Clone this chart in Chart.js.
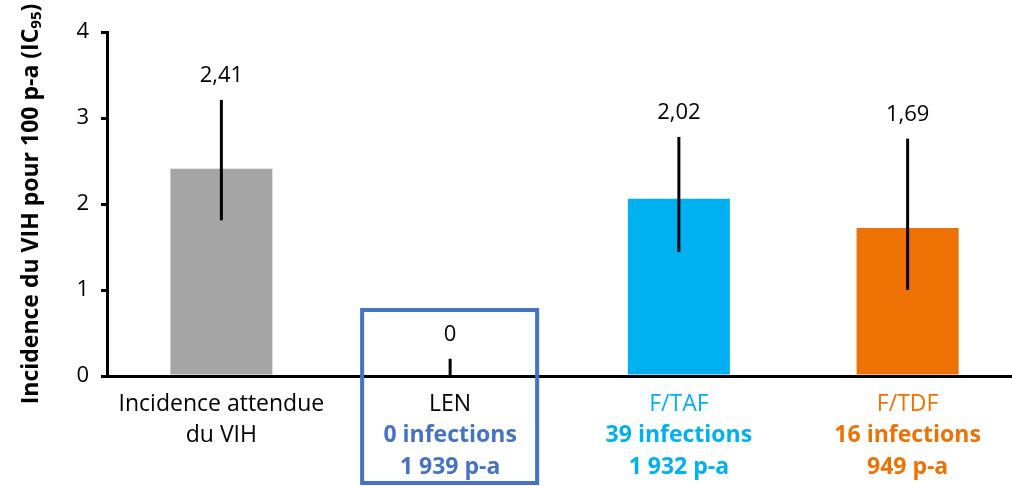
<!DOCTYPE html>
<html><head><meta charset="utf-8">
<script src="https://cdn.jsdelivr.net/npm/chart.js@4"></script>
<style>html,body{margin:0;padding:0;background:#fff;overflow:hidden}#wrap{width:1022px;height:486px;position:relative}</style>
</head><body><div id="wrap"><canvas id="c"></canvas></div>
<script>
const categories = ['Incidence attendue du VIH', 'LEN', 'F/TAF', 'F/TDF'];
const incidence = [2.41, 0, 2.06, 1.72];
const ciLow = [1.81, 0, 1.44, 1.0];
const ciHigh = [3.21, 0.2, 2.78, 2.76];
const valueLabels = ['2,41', '0', '2,02', '1,69'];
const labelLines = [
  ['Incidence attendue', 'du VIH'],
  ['LEN', '0 infections', '1 939 p-a'],
  ['F/TAF', '39 infections', '1 932 p-a'],
  ['F/TDF', '16 infections', '949 p-a']
];
const yTicks = [0, 1, 2, 3, 4];
const barColors = ['#A5A5A5', '#4472C4', '#00B0F0', '#ED7203'];
const firstLineColors = ['#000000', '#000000', '#00B0F0', '#ED7203'];
const otherLineColors = ['#000000', '#4472C4', '#00B0F0', '#ED7203'];
const FONT = '"Open Sans", Lato, sans-serif';

const overlay = {
  id: 'overlay',
  afterDatasetsDraw(chart) {
    const ctx = chart.ctx, x = chart.scales.x, y = chart.scales.y, ca = chart.chartArea;
    ctx.save();
    ctx.strokeStyle = '#000'; ctx.lineWidth = 3;
    for (let i = 0; i < categories.length; i++) {
      const px = x.getPixelForValue(i);
      ctx.beginPath();
      ctx.moveTo(px, y.getPixelForValue(ciLow[i]));
      ctx.lineTo(px, y.getPixelForValue(ciHigh[i]));
      ctx.stroke();
      ctx.fillStyle = '#000';
      ctx.font = '22px ' + FONT;
      ctx.textAlign = 'center'; ctx.textBaseline = 'middle';
      ctx.fillText(valueLabels[i], px, y.getPixelForValue(ciHigh[i]) - 24);
      labelLines[i].forEach((t, j) => {
        ctx.font = (j === 0 || i === 0 ? '' : 'bold ') + '23px ' + FONT;
        ctx.fillStyle = j === 0 ? firstLineColors[i] : otherLineColors[i];
        ctx.fillText(t, px, ca.bottom + 28 + j * 31.5);
      });
    }
    const lx = x.getPixelForValue(1);
    ctx.strokeStyle = '#4472C4'; ctx.lineWidth = 4;
    ctx.strokeRect(lx - 88, 310, 175, 173);
    ctx.translate(31, (ca.top + ca.bottom) / 2);
    ctx.rotate(-Math.PI / 2);
    ctx.fillStyle = '#000';
    const main = 'Incidence du VIH pour 100 p-a (IC', sub = '95', end = ')';
    ctx.font = 'bold 23px ' + FONT; const w1 = ctx.measureText(main).width, w3 = ctx.measureText(end).width;
    ctx.font = 'bold 15px ' + FONT; const w2 = ctx.measureText(sub).width;
    let sx = -(w1 + w2 + w3) / 2;
    ctx.textAlign = 'left'; ctx.textBaseline = 'middle';
    ctx.font = 'bold 23px ' + FONT; ctx.fillText(main, sx, 0); sx += w1;
    ctx.font = 'bold 15px ' + FONT; ctx.fillText(sub, sx, 6); sx += w2;
    ctx.font = 'bold 23px ' + FONT; ctx.fillText(end, sx, 0);
    ctx.restore();
  }
};

new Chart(document.getElementById('c'), {
  type: 'bar',
  data: {
    labels: categories,
    datasets: [{ data: incidence, backgroundColor: barColors, borderWidth: 0,
      categoryPercentage: 1, barPercentage: 0.446 }]
  },
  options: {
    responsive: true, maintainAspectRatio: false, animation: false,
    layout: { padding: { top: 32, left: 0, right: 0, bottom: 110 } },
    plugins: { legend: { display: false }, tooltip: { enabled: false } },
    scales: {
      x: {
        ticks: { display: false },
        grid: { display: false },
        border: { display: true, color: '#000', width: 3 },
        afterFit(s) { s.height = 0; }
      },
      y: {
        min: 0, max: 4,
        afterBuildTicks(s) { s.ticks = yTicks.map(v => ({ value: v })); },
        ticks: { font: { size: 22, family: FONT }, color: '#000', padding: 12 },
        grid: { drawOnChartArea: false, drawTicks: true, tickLength: 6, color: '#000', lineWidth: 3 },
        border: { display: true, color: '#000', width: 3 },
        afterFit(s) { s.width = 107; }
      }
    }
  },
  plugins: [overlay]
});
</script></body></html>
